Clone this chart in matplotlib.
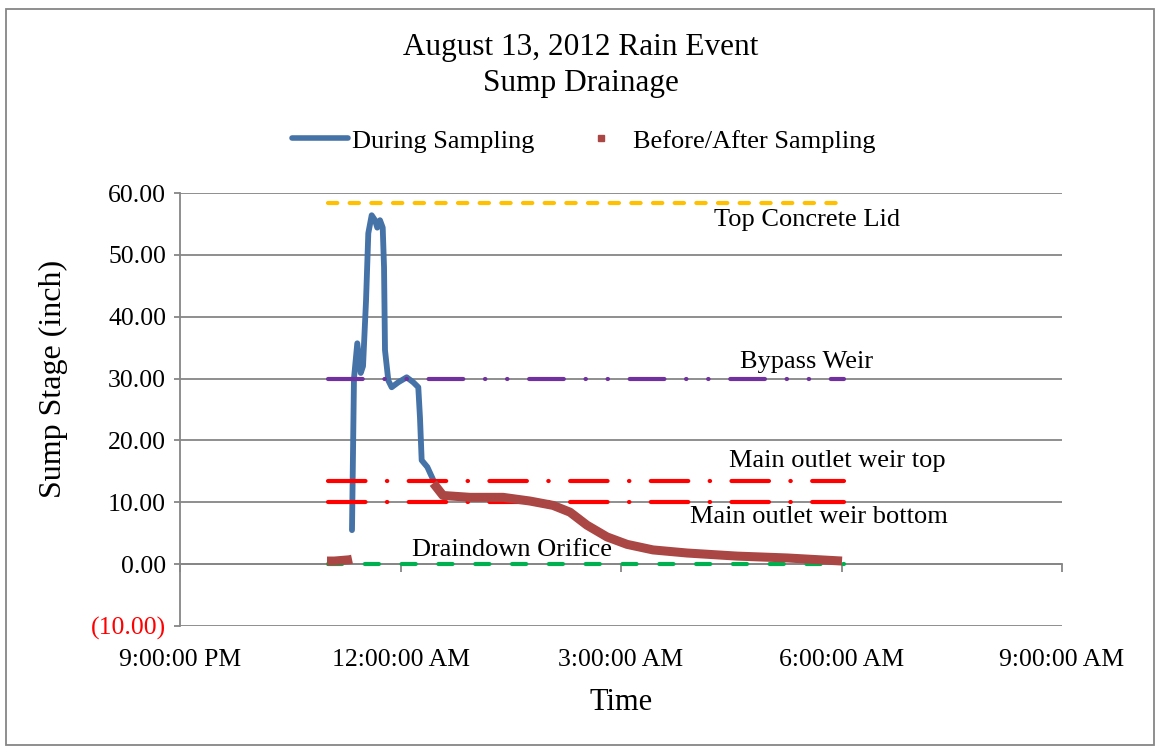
import matplotlib
matplotlib.use('Agg')
import matplotlib.pyplot as plt
from matplotlib.lines import Line2D
from matplotlib.patches import Rectangle
from matplotlib.ticker import FuncFormatter

plt.rcParams['font.family'] = ['Liberation Serif', 'DejaVu Serif']
plt.rcParams['lines.scale_dashes'] = False

# tiempo en horas respecto a la medianoche (negativo = antes de las 12:00 AM)
during_t = [-0.660, -0.633, -0.588, -0.541, -0.510, -0.469, -0.438, -0.392,
            -0.347, -0.316, -0.279, -0.242, -0.224, -0.211, -0.166, -0.120,
            -0.030, 0.084, 0.174, 0.242, 0.265, 0.288, 0.365, 0.446]
during_y = [5.5, 30.0, 35.7, 30.9, 32.0, 42.6, 53.5, 56.4,
            55.6, 54.4, 55.6, 54.4, 48.0, 34.6, 29.7, 28.6,
            29.4, 30.2, 29.4, 28.6, 23.7, 16.8, 15.7, 13.6]

before_t = [-1.00, -0.90, -0.80, -0.70, -0.66]
before_y = [0.5, 0.5, 0.6, 0.7, 0.8]

after_t = [0.446, 0.578, 0.946, 1.395, 1.762, 2.075, 2.306, 2.537, 2.810,
           3.082, 3.435, 3.898, 4.578, 5.259, 6.007]
after_y = [13.1, 11.1, 10.8, 10.8, 10.2, 9.5, 8.4, 6.3, 4.4,
           3.2, 2.3, 1.8, 1.3, 1.0, 0.5]

# niveles de referencia de la estructura
ref_start, ref_end = -0.98, 6.03
lid_level = 58.4
bypass_level = 30.0
weir_top_level = 13.5
weir_bottom_level = 10.0
orifice_level = 0.0

xticks = [-3, 0, 3, 6, 9]
xtick_labels = ['9:00:00 PM', '12:00:00 AM', '3:00:00 AM', '6:00:00 AM', '9:00:00 AM']
yticks = [-10, 0, 10, 20, 30, 40, 50, 60]

fig = plt.figure(figsize=(11.57, 7.49), dpi=100)
ax = fig.add_axes([180 / 1157, 1 - 626 / 749, 882 / 1157, 433 / 749])

grid_color = '#868686'
for v in yticks:
    ax.axhline(v, color=grid_color, lw=1.3, zorder=0)

# curva durante el muestreo
ax.plot(during_t, during_y, color='#4572A7', lw=4.2, solid_joinstyle='round',
        solid_capstyle='round', zorder=2)

# líneas de referencia
ax.plot([ref_start, ref_end], [lid_level] * 2, color='#FFC000', lw=3,
        dashes=(6.7, 8.9), dash_capstyle='round', zorder=3)
ax.plot([ref_start, ref_end], [bypass_level] * 2, color='#7030A0', lw=3,
        dashes=(25, 15.6, 0.3, 15.6, 0.3, 15.6), dash_capstyle='round', zorder=3)
ax.plot([ref_start, ref_end], [weir_top_level] * 2, color='#FF0000', lw=3,
        dashes=(27, 15.4, 0.3, 15.4), dash_capstyle='round', zorder=3)
ax.plot([ref_start, ref_end], [weir_bottom_level] * 2, color='#FF0000', lw=3,
        dashes=(27, 15.4, 0.3, 15.4), dash_capstyle='round', zorder=3)
ax.plot([ref_start, ref_end], [orifice_level] * 2, color='#00B050', lw=3,
        dashes=(10.2, 16.3), dash_capstyle='round', zorder=3)

# antes/después del muestreo
ax.plot(before_t, before_y, color='#AA4643', lw=6.5, solid_capstyle='butt', zorder=4)
ax.plot(after_t, after_y, color='#AA4643', lw=6.5, solid_capstyle='butt',
        solid_joinstyle='round', zorder=4)

fs = 19
ax.text(5.53, 55.6, 'Top Concrete Lid', fontsize=fs, ha='center', va='center')
ax.text(5.53, 32.6, 'Bypass Weir', fontsize=fs, ha='center', va='center')
ax.text(5.94, 16.6, 'Main outlet weir top', fontsize=fs, ha='center', va='center')
ax.text(5.69, 7.6, 'Main outlet weir bottom', fontsize=fs, ha='center', va='center')
ax.text(1.52, 2.3, 'Draindown Orifice', fontsize=fs, ha='center', va='center')

ax.set_xlim(-3, 9)
ax.set_ylim(-10, 60)
ax.set_yticks(yticks)
ax.yaxis.set_major_formatter(FuncFormatter(
    lambda v, p: f'{v:.2f}' if v >= 0 else f'({abs(v):.2f})'))
for lbl in ax.get_yticklabels():
    if lbl.get_text().startswith('('):
        lbl.set_color('#FF0000')
ax.set_xticks(xticks)
ax.set_xticklabels(xtick_labels)

for s in ['top', 'right']:
    ax.spines[s].set_visible(False)
ax.spines['left'].set_color(grid_color)
ax.spines['left'].set_linewidth(1.3)
ax.spines['bottom'].set_position(('data', 0))
ax.spines['bottom'].set_color(grid_color)
ax.spines['bottom'].set_linewidth(1.3)
ax.tick_params(axis='y', labelsize=18.5, length=4, color=grid_color, width=1.3, pad=6)
ax.tick_params(axis='x', labelsize=18.5, length=6, color=grid_color, width=1.3, pad=55)

ax.set_xlabel('Time', fontsize=22, labelpad=12)
ax.set_ylabel('Sump Stage (inch)', fontsize=23)
ax.yaxis.set_label_coords(-0.127, 0.57)

fig.text(0.502, 1 - 47 / 749, 'August 13, 2012 Rain Event', fontsize=22.5,
         ha='center', va='center')
fig.text(0.502, 1 - 83 / 749, 'Sump Drainage', fontsize=22.5, ha='center', va='center')

handles = [Line2D([], [], color='#4572A7', lw=4, solid_capstyle='round'),
           Line2D([], [], color='#AA4643', ls='none', marker='s', markersize=5)]
fig.legend(handles, ['During Sampling', 'Before/After Sampling'], ncol=2,
           loc='center', bbox_to_anchor=(584 / 1157, 1 - 141 / 749), frameon=False,
           fontsize=19, handlelength=2.1, handletextpad=0.15, columnspacing=1.5)

fig.patches.append(Rectangle((6 / 1157, 4 / 749), 1148 / 1157, 736 / 749,
                             transform=fig.transFigure, fill=False,
                             edgecolor='#868686', lw=1.3))

fig.savefig('out.png', dpi=100)
